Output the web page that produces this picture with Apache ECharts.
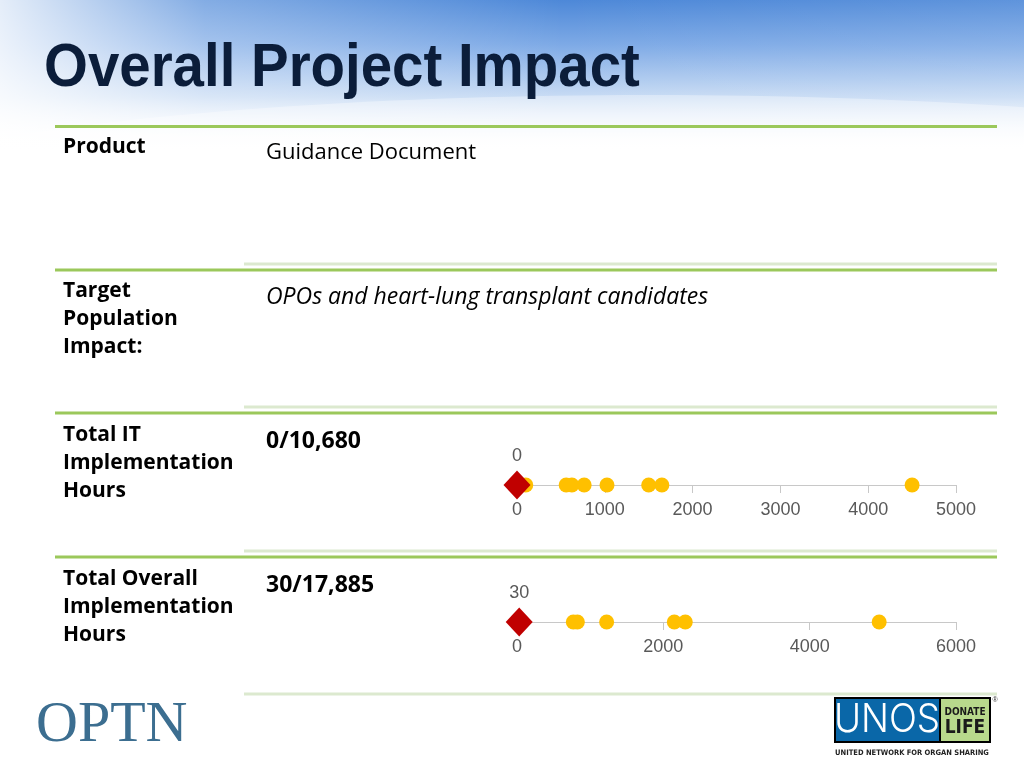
<!DOCTYPE html>
<html><head><meta charset="utf-8">
<script src="https://cdn.jsdelivr.net/npm/echarts@6/dist/echarts.min.js"></script>
<style>html,body{margin:0;padding:0;background:#fff}#c{width:1024px;height:768px}</style>
</head><body><div id="c"></div>
<script>
// ---- data ----
const rowLabels = ['Product', 'Target\nPopulation\nImpact:', 'Total IT\nImplementation\nHours', 'Total Overall\nImplementation\nHours'];
const productText = 'Guidance Document';
const populationText = 'OPOs and heart-lung transplant candidates';
const itHoursText = '0/10,680';
const overallHoursText = '30/17,885';
const itHoursOthers = [100, 560, 625, 765, 1025, 1500, 1650, 4500];
const itHoursThis = [0];
const overallHoursOthers = [770, 825, 1225, 2150, 2300, 4950];
const overallHoursThis = [30];
const itAxis = {min: 0, max: 5000, interval: 1000};
const overallAxis = {min: 0, max: 6000, interval: 2000};

const chart = echarts.init(document.getElementById('c'), null, {renderer: 'canvas'});
const GREEN = '#9bc85b', LIGHT = '#dce9cf', YEL = '#ffc000', RED = '#c00000', GREY = '#595959';
const labelFont = '"Open Sans", Lato, sans-serif';

function hline(y, x1, x2, color, w) {
  return {type: 'line', shape: {x1: x1, y1: y, x2: x2, y2: y}, style: {stroke: color, lineWidth: w}, z: 1};
}
function txt(x, y, t, opts, z) {
  return {type: 'text', x: x, y: y, z: z || 5, style: Object.assign({text: t, fill: '#000', font: 'bold 21px ' + labelFont, lineHeight: 28, verticalAlign: 'top'}, opts || {})};
}

const graphic = [
  {type: 'rect', shape: {x: 0, y: 0, width: 1024, height: 768}, style: {fill: '#fff'}, z: -10},
  {type: 'rect', shape: {x: 0, y: 0, width: 1024, height: 150}, z: -9,
    style: {fill: new echarts.graphic.LinearGradient(0, 0, 0, 1, [
      {offset: 0, color: '#4d88d8'}, {offset: 0.3, color: '#7eaae6'}, {offset: 0.65, color: '#c9dcf4'}, {offset: 1, color: 'rgba(255,255,255,0)'}])}},
  {type: 'rect', shape: {x: 0, y: 0, width: 1024, height: 150}, z: -8,
    style: {fill: new echarts.graphic.LinearGradient(0, 0, 1, 0, [
      {offset: 0, color: 'rgba(255,255,255,0.85)'}, {offset: 0.2, color: 'rgba(255,255,255,0.3)'}, {offset: 0.55, color: 'rgba(255,255,255,0)'}, {offset: 1, color: 'rgba(255,255,255,0.1)'}])}},
  {type: 'ellipse', shape: {cx: 650, cy: 215, rx: 850, ry: 120}, z: -7, style: {fill: 'rgba(255,255,255,0.35)'}},
  {type: 'text', x: 44, y: 69, scaleX: 0.91, z: 5, style: {text: 'Overall Project Impact', font: 'bold 62px "Liberation Sans", Arial, sans-serif', fill: '#0b1d3a', verticalAlign: 'middle', lineHeight: 66}},
  hline(126.5, 55, 997, GREEN, 3),
  hline(264, 244, 997, LIGHT, 3), hline(270, 55, 997, GREEN, 3),
  hline(407, 244, 997, LIGHT, 3), hline(413, 55, 997, GREEN, 3),
  hline(551, 244, 997, LIGHT, 3), hline(557, 55, 997, GREEN, 3),
  hline(694, 244, 997, LIGHT, 3),
  txt(63, 133, rowLabels[0]),
  txt(63, 277, rowLabels[1]),
  txt(63, 421, rowLabels[2]),
  txt(63, 565, rowLabels[3]),
  txt(266, 139, productText, {font: '22px ' + labelFont}),
  txt(266, 283, populationText, {font: 'italic 23px ' + labelFont}),
  txt(266, 427, itHoursText, {font: 'bold 23px ' + labelFont}),
  txt(266, 571, overallHoursText, {font: 'bold 23px ' + labelFont}),
  // OPTN logo
  txt(36, 696, 'OPTN', {font: '58px "Liberation Serif", "DejaVu Serif", serif', fill: '#3c6e90', lineHeight: 60}),
  // UNOS logo
  {type: 'rect', shape: {x: 834, y: 697, width: 157, height: 46}, style: {fill: '#000'}, z: 5},
  {type: 'rect', shape: {x: 836, y: 699, width: 103, height: 42}, style: {fill: '#0a67a8'}, z: 6},
  {type: 'rect', shape: {x: 941, y: 699, width: 48, height: 42}, style: {fill: '#b8d98c'}, z: 6},
  {type: 'text', x: 887, y: 720, z: 7, scaleX: 0.92, style: {text: 'UNOS', font: '300 40px Inter, "Liberation Sans", sans-serif', fill: '#fff', align: 'center', verticalAlign: 'middle'}},
  {type: 'text', x: 965, y: 712, z: 7, style: {text: 'DONATE', font: 'bold 10px "DejaVu Sans Condensed", sans-serif', fill: '#1a1a1a', align: 'center', verticalAlign: 'middle'}},
  {type: 'text', x: 965, y: 728, z: 7, style: {text: 'LIFE', font: 'bold 19px "DejaVu Sans Condensed", sans-serif', fill: '#1a1a1a', align: 'center', verticalAlign: 'middle'}},
  {type: 'text', x: 995, y: 700, z: 7, style: {text: '®', font: '7px sans-serif', fill: '#333', align: 'center', verticalAlign: 'middle'}},
  {type: 'text', x: 912, y: 753, z: 7, style: {text: 'UNITED NETWORK FOR ORGAN SHARING', font: 'bold 7.5px "DejaVu Sans Condensed", sans-serif', fill: '#222', align: 'center', verticalAlign: 'middle'}}
];

function axisX(ax, idx) {
  return {type: 'value', gridIndex: idx, min: ax.min, max: ax.max, interval: ax.interval,
    axisLine: {show: true, lineStyle: {color: '#c8c8c8', width: 1}},
    axisTick: {show: true, length: 8, lineStyle: {color: '#c8c8c8'}},
    axisLabel: {show: true, color: GREY, fontSize: 18, fontFamily: '"Liberation Sans", Arial, sans-serif', margin: 16, formatter: v => String(v)},
    splitLine: {show: false}};
}
function axisY(idx) {
  return {type: 'value', gridIndex: idx, min: 0, max: 1, show: false};
}
function others(vals, idx) {
  return {type: 'scatter', xAxisIndex: idx, yAxisIndex: idx, clip: false, symbol: 'circle', symbolSize: 15,
    itemStyle: {color: YEL, opacity: 1}, z: 3, silent: true,
    data: vals.map(v => [v, 0])};
}
function current(vals, idx) {
  return {type: 'scatter', xAxisIndex: idx, yAxisIndex: idx, clip: false, symbol: 'diamond', symbolSize: [27, 29],
    itemStyle: {color: RED, opacity: 1}, z: 4, silent: true,
    label: {show: true, position: 'top', distance: 5, color: GREY, fontSize: 18, fontFamily: '"Liberation Sans", Arial, sans-serif', formatter: p => String(p.value[0])},
    data: vals.map(v => [v, 0])};
}

chart.setOption({
  animation: false,
  backgroundColor: '#fff',
  graphic: graphic,
  grid: [
    {left: 517, width: 439, top: 455, height: 30},
    {left: 517, width: 439, top: 592, height: 30}
  ],
  xAxis: [axisX(itAxis, 0), axisX(overallAxis, 1)],
  yAxis: [axisY(0), axisY(1)],
  series: [others(itHoursOthers, 0), current(itHoursThis, 0), others(overallHoursOthers, 1), current(overallHoursThis, 1)]
});
</script></body></html>
